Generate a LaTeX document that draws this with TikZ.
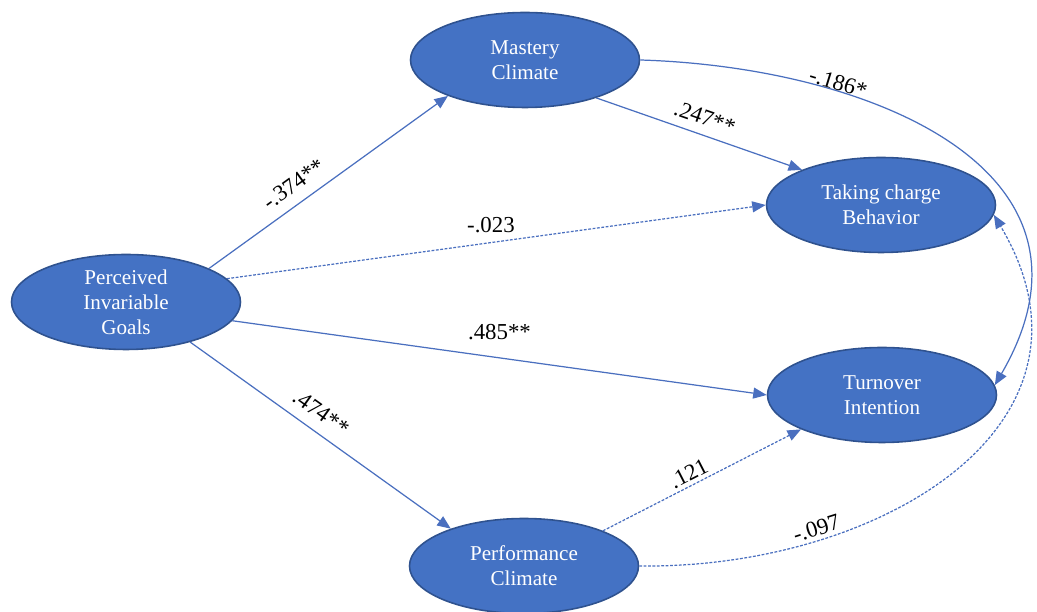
\documentclass[tikz,border=0pt]{standalone}
\usepackage{fontspec}
\setmainfont{Liberation Serif}
\usepackage{tikz}
\usetikzlibrary{shapes.geometric, arrows.meta}

\definecolor{latfill}{HTML}{4472C4}
\definecolor{latedge}{HTML}{2F528F}
\definecolor{pathcol}{HTML}{4A6FBF}

\begin{document}
\begin{tikzpicture}[
      latent/.style={ellipse, draw=latedge, line width=0.9pt, fill=latfill,
        minimum width=4.58cm, minimum height=1.9cm, inner sep=0pt,
        text=white, align=center, font=\fontsize{12}{14.2}\selectfont},
      path/.style={draw=pathcol, line width=0.7pt,
        -{Triangle[length=0.27cm, width=0.22cm]}},
      nopath/.style={path, dash pattern=on 1.6pt off 0.9pt},
      coef/.style={font=\fontsize{13}{15}\selectfont, inner sep=2pt}]
      \useasboundingbox (0,0) rectangle (20.74,12.24);
      % latent variables
      \node[latent] (pig) at (2.52,6.20) {Perceived\\Invariable\\Goals};
      \node[latent] (mc) at (10.50,11.04) {Mastery\\Climate};
      \node[latent] (pc) at (10.48,0.92) {Performance\\Climate};
      \node[latent] (tc) at (17.62,8.14) {Taking charge\\Behavior};
      \node[latent] (ti) at (17.64,4.34) {Turnover\\Intention};
      % paths from goals
      \draw[path] (pig.22) -- node[coef, sloped, above=4pt, pos=0.4] {-.374**} (mc.205);
      \draw[nopath] (pig.13) -- node[coef, above=3pt, pos=0.49] {-.023} (tc.180);
      \draw[path] (pig.350) -- node[coef, above=8pt, pos=0.5] {.485**} (ti.180);
      \draw[path] (pig.328) -- node[coef, sloped, above=4pt, pos=0.46] {.474**} (pc.153);
      % paths from climates
      \draw[path] (mc.332) -- node[coef, sloped, above=3pt, pos=0.5] {.247**} (tc.156);
      \draw[nopath] (pc.24) -- node[coef, sloped, above, pos=0.46] {.121} (ti.203);
      \draw[path] (mc.east) .. controls +(4.6,-0.14) and +(2.5,4.3) .. node[coef, sloped, above, inner sep=0pt, pos=0.29] {-.186*} (ti.5);
      \draw[nopath] (pc.east) .. controls +(4.8,-0.06) and +(2.5,-4.2) .. node[coef, sloped, above, inner sep=2pt, pos=0.26] {-.097} (tc.355);
    \end{tikzpicture}
\end{document}
